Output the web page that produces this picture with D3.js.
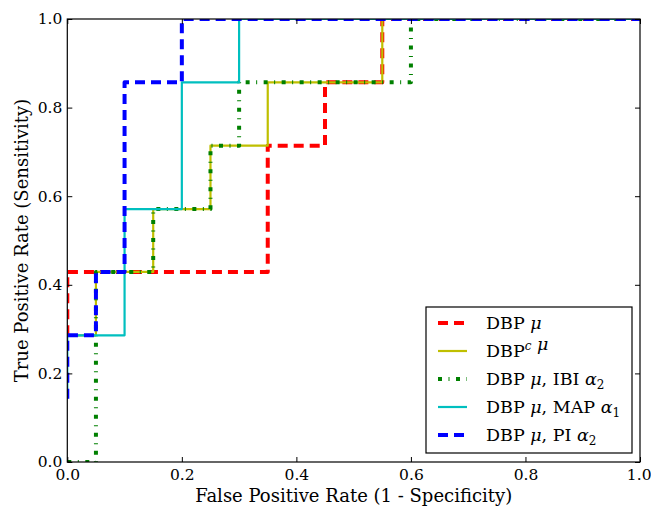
<!DOCTYPE html>
<html>
<head>
<meta charset="utf-8">
<script src="https://cdn.jsdelivr.net/npm/d3@7"></script>
<style>
  html, body { margin: 0; padding: 0; background: #fff; }
  svg text { font-family: "DejaVu Serif", serif; fill: #000; }
</style>
</head>
<body>
<svg id="chart" width="651" height="508"></svg>
<script>
// ROC curves: corner points of each step curve (false positive rate, true positive rate)
const redFpr    = [0, 0, 0.35, 0.35, 0.45, 0.45, 0.55, 0.55, 1];
const redTpr    = [0.286, 0.429, 0.429, 0.714, 0.714, 0.857, 0.857, 1, 1];
const yellowFpr = [0, 0.05, 0.05, 0.15, 0.15, 0.25, 0.25, 0.35, 0.35, 0.55, 0.55, 1];
const yellowTpr = [0.286, 0.286, 0.429, 0.429, 0.571, 0.571, 0.714, 0.714, 0.857, 0.857, 1, 1];
const greenFpr  = [0, 0.05, 0.05, 0.15, 0.15, 0.25, 0.25, 0.3, 0.3, 0.6, 0.6, 1];
const greenTpr  = [0, 0, 0.429, 0.429, 0.571, 0.571, 0.714, 0.714, 0.857, 0.857, 1, 1];
const cyanFpr   = [0, 0, 0.1, 0.1, 0.2, 0.2, 0.3, 0.3, 1];
const cyanTpr   = [0.143, 0.286, 0.286, 0.571, 0.571, 0.857, 0.857, 1, 1];
const blueFpr   = [0, 0, 0.05, 0.05, 0.1, 0.1, 0.2, 0.2, 1];
const blueTpr   = [0.143, 0.286, 0.286, 0.429, 0.429, 0.857, 0.857, 1, 1];

const xTicks = [0, 0.2, 0.4, 0.6, 0.8, 1.0];
const yTicks = [0, 0.2, 0.4, 0.6, 0.8, 1.0];

const xLabel = "False Positive Rate (1 - Specificity)";
const yLabel = "True Positive Rate (Sensitivity)";

const series = [
  { fpr: redFpr,    tpr: redTpr,    color: "#ff0000", width: 4, dash: "10,6",
    label: [["DBP "], ["μ", "i"]] },
  { fpr: yellowFpr, tpr: yellowTpr, color: "#bfbf00", width: 2.2, dash: null,
    label: [["DBP"], ["c", "sup"], [" "], ["μ", "i"]] },
  { fpr: greenFpr,  tpr: greenTpr,  color: "#008000", width: 4, dash: "4,6.5,1,6.5",
    label: [["DBP "], ["μ", "i"], [", IBI "], ["α", "i"], ["2", "sub"]] },
  { fpr: cyanFpr,   tpr: cyanTpr,   color: "#00bfbf", width: 2.2, dash: null,
    label: [["DBP "], ["μ", "i"], [", MAP "], ["α", "i"], ["1", "sub"]] },
  { fpr: blueFpr,   tpr: blueTpr,   color: "#0000ff", width: 4, dash: "10,6",
    label: [["DBP "], ["μ", "i"], [", PI "], ["α", "i"], ["2", "sub"]] }
];

const svg = d3.select("#chart");
const plotL = 67.3, plotR = 640, plotT = 19, plotB = 462;

const x = d3.scaleLinear().domain([0, 1]).range([plotL, plotR]);
const y = d3.scaleLinear().domain([0, 1]).range([plotB, plotT]);

svg.append("defs").append("clipPath").attr("id", "plotClip")
  .append("rect").attr("x", plotL).attr("y", plotT)
  .attr("width", plotR - plotL).attr("height", plotB - plotT);

// curves
const line = d3.line().x(d => x(d[0])).y(d => y(d[1]));
const curves = svg.append("g").attr("clip-path", "url(#plotClip)");
series.forEach(s => {
  const pts = s.fpr.map((f, i) => [f, s.tpr[i]]);
  curves.append("path")
    .attr("d", line(pts))
    .attr("fill", "none")
    .attr("stroke", s.color)
    .attr("stroke-width", s.width)
    .attr("stroke-dasharray", s.dash)
    .attr("stroke-linejoin", "round")
    .attr("stroke-linecap", "butt");
});

// axes with inward ticks on all four sides
const tickLen = 5;
const axisFont = "15.5px";
const xb = svg.append("g").attr("transform", `translate(0,${plotB})`)
  .call(d3.axisBottom(x).tickValues(xTicks).tickFormat(d3.format(".1f")).tickSizeInner(-tickLen).tickSizeOuter(0).tickPadding(7));
const xt = svg.append("g").attr("transform", `translate(0,${plotT})`)
  .call(d3.axisTop(x).tickValues(xTicks).tickFormat("").tickSizeInner(-tickLen).tickSizeOuter(0));
const yl = svg.append("g").attr("transform", `translate(${plotL},0)`)
  .call(d3.axisLeft(y).tickValues(yTicks).tickFormat(d3.format(".1f")).tickSizeInner(-tickLen).tickSizeOuter(0).tickPadding(5));
const yr = svg.append("g").attr("transform", `translate(${plotR},0)`)
  .call(d3.axisRight(y).tickValues(yTicks).tickFormat("").tickSizeInner(-tickLen).tickSizeOuter(0));
[xb, xt, yl, yr].forEach(g => {
  g.select(".domain").remove();
  g.selectAll(".tick line").attr("stroke", "#000").attr("stroke-width", 1);
  g.selectAll("text").style("font-family", "DejaVu Serif, serif").style("font-size", axisFont).attr("fill", "#000");
});
// keep the last x tick label inside the canvas edge
xb.selectAll(".tick text").filter(d => d === 1).attr("text-anchor", "end").attr("x", 11);

// frame
svg.append("rect").attr("x", plotL).attr("y", plotT)
  .attr("width", plotR - plotL).attr("height", plotB - plotT)
  .attr("fill", "none").attr("stroke", "#000").attr("stroke-width", 1.2);

// axis titles
svg.append("text").attr("x", (plotL + plotR) / 2).attr("y", 502)
  .attr("text-anchor", "middle").style("font-size", "18px").text(xLabel);
svg.append("text").attr("transform", `translate(28,${(plotT + plotB) / 2}) rotate(-90)`)
  .attr("text-anchor", "middle").style("font-size", "18px").text(yLabel);

// legend
const lg = svg.append("g");
lg.append("rect").attr("x", 426).attr("y", 307).attr("width", 206).attr("height", 146)
  .attr("fill", "#fff").attr("stroke", "#000").attr("stroke-width", 1.2);
series.forEach((s, i) => {
  const cy = 323 + i * 28;
  lg.append("line").attr("x1", 438).attr("x2", 467).attr("y1", cy).attr("y2", cy)
    .attr("stroke", s.color).attr("stroke-width", s.width)
    .attr("stroke-dasharray", s.dash);
  const t = lg.append("text").attr("x", 486).attr("y", cy + 6).style("font-size", "17.5px");
  s.label.forEach(([txt, kind]) => {
    const ts = t.append("tspan").text(txt);
    if (kind === "i") ts.style("font-style", "italic");
    if (kind === "sup") ts.attr("dy", -7).style("font-size", "12px").style("font-style", "italic");
    if (kind === "sub") ts.attr("dy", 4).style("font-size", "12px");
    if (kind === "sup" || kind === "sub") {
      // restore baseline for following text
      t.append("tspan").attr("dy", kind === "sup" ? 7 : -4).text("");
    }
  });
});
</script>
</body>
</html>
